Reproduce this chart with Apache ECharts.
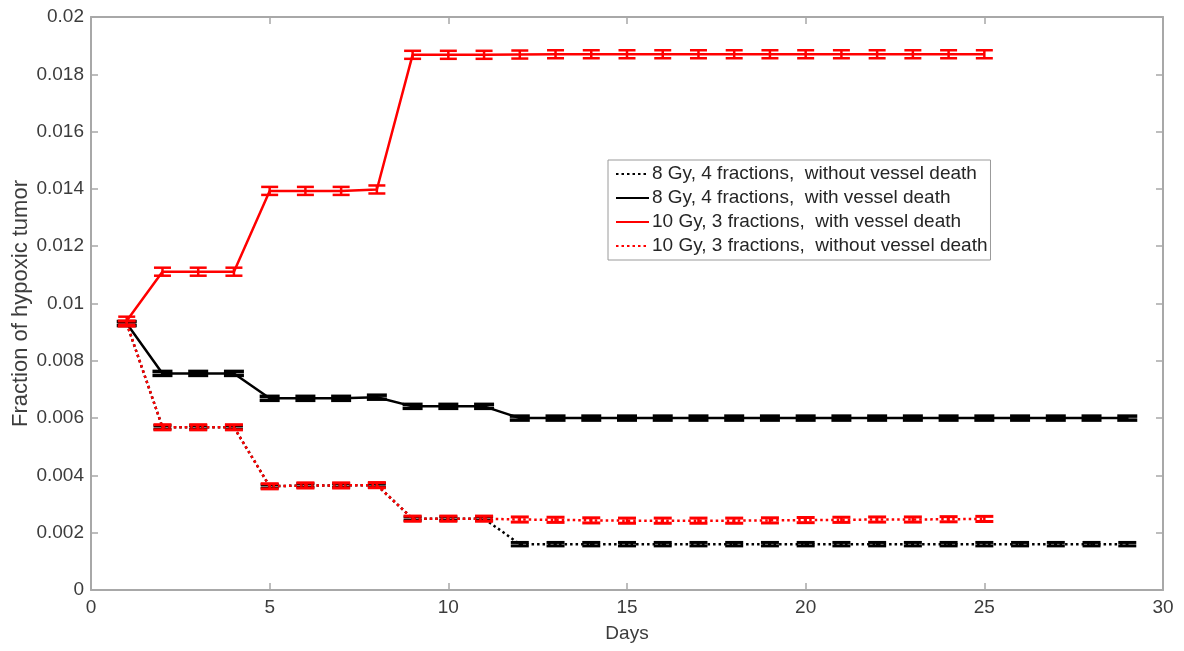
<!DOCTYPE html>
<html>
<head>
<meta charset="utf-8">
<script src="https://cdn.jsdelivr.net/npm/echarts@6/dist/echarts.min.js"></script>
<style>
html,body{margin:0;padding:0;background:#fff;}
#chart{width:1184px;height:651px;}
</style>
</head>
<body>
<div id="chart"></div>
<script>
// ---- data ----
const daysLong = [1,2,3,4,5,6,7,8,9,10,11,12,13,14,15,16,17,18,19,20,21,22,23,24,25,26,27,28,29];
const daysShort = [1,2,3,4,5,6,7,8,9,10,11,12,13,14,15,16,17,18,19,20,21,22,23,24,25];

const xTicks = [0,5,10,15,20,25,30];
const yTicks = [0,0.002,0.004,0.006,0.008,0.01,0.012,0.014,0.016,0.018,0.02];

const seriesNames = [
  '8 Gy, 4 fractions,  without vessel death',
  '8 Gy, 4 fractions,  with vessel death',
  '10 Gy, 3 fractions,  with vessel death',
  '10 Gy, 3 fractions,  without vessel death'
];

// 8 Gy, 4 fractions, without vessel death (black dotted)
const black8Without = [0.0093,0.00568,0.00568,0.00568,0.00362,0.00365,0.00365,0.00366,0.00249,0.00249,0.00249,
  0.0016,0.0016,0.0016,0.0016,0.0016,0.0016,0.0016,0.0016,0.0016,0.0016,0.0016,0.0016,0.0016,0.0016,0.0016,0.0016,0.0016,0.0016];
const black8WithoutErr = [0.00006,0.00006,0.00006,0.00006,0.00006,0.00006,0.00006,0.00006,0.00006,0.00006,0.00006,
  0.00006,0.00006,0.00006,0.00006,0.00006,0.00006,0.00006,0.00006,0.00006,0.00006,0.00006,0.00006,0.00006,0.00006,0.00006,0.00006,0.00006,0.00006];

// 8 Gy, 4 fractions, with vessel death (black solid)
const black8With = [0.0093,0.00756,0.00756,0.00756,0.00669,0.00669,0.00669,0.00673,0.00641,0.00641,0.00641,
  0.006,0.006,0.006,0.006,0.006,0.006,0.006,0.006,0.006,0.006,0.006,0.006,0.006,0.006,0.006,0.006,0.006,0.006];
const black8WithErr = [0.00007,0.00007,0.00007,0.00007,0.00007,0.00007,0.00007,0.00007,0.00007,0.00007,0.00007,
  0.00007,0.00007,0.00007,0.00007,0.00007,0.00007,0.00007,0.00007,0.00007,0.00007,0.00007,0.00007,0.00007,0.00007,0.00007,0.00007,0.00007,0.00007];

// 10 Gy, 3 fractions, with vessel death (red solid)
const red10With = [0.0094,0.01111,0.01111,0.01111,0.01393,0.01393,0.01393,0.01398,0.01868,0.01868,0.01868,
  0.01869,0.0187,0.0187,0.0187,0.0187,0.0187,0.0187,0.0187,0.0187,0.0187,0.0187,0.0187,0.0187,0.0187];
const red10WithErr = [0.00014,0.00014,0.00014,0.00014,0.00014,0.00014,0.00014,0.00014,0.00014,0.00014,0.00014,
  0.00014,0.00014,0.00014,0.00014,0.00014,0.00014,0.00014,0.00014,0.00014,0.00014,0.00014,0.00014,0.00014,0.00014];

// 10 Gy, 3 fractions, without vessel death (red dotted)
const red10Without = [0.0093,0.00568,0.00568,0.00568,0.00362,0.00365,0.00365,0.00366,0.00249,0.00249,0.00249,
  0.00246,0.00245,0.00243,0.00242,0.00242,0.00242,0.00242,0.00243,0.00244,0.00245,0.00246,0.00246,0.00247,0.00248];
const red10WithoutErr = [0.00009,0.00009,0.00009,0.00009,0.00009,0.00009,0.00009,0.00009,0.00009,0.00009,0.00009,
  0.00009,0.00009,0.00009,0.00009,0.00009,0.00009,0.00009,0.00009,0.00009,0.00009,0.00009,0.00009,0.00009,0.00009];

// ---- build ----
const FONT = '"Liberation Sans", Arial, sans-serif';
const AXIS_COLOR = '#a8a8a8';
const TEXT_COLOR = '#3c3c3c';
const LW = 2.5;

function pairs(xs, ys){ return xs.map((x,i)=>[x, ys[i]]); }
function errData(xs, ys, es){ return xs.map((x,i)=>[x, ys[i]-es[i], ys[i]+es[i]]); }

function errRender(color, capHalf, capW){
  return function(params, api){
    const x = api.value(0);
    const lo = api.coord([x, api.value(1)]);
    const hi = api.coord([x, api.value(2)]);
    const st = {stroke: color, lineWidth: LW, fill: null};
    const cs = {stroke: color, lineWidth: capW, fill: null};
    return {type:'group', children:[
      {type:'line', shape:{x1:lo[0], y1:lo[1], x2:hi[0], y2:hi[1]}, style:st},
      {type:'line', shape:{x1:lo[0]-capHalf, y1:lo[1], x2:lo[0]+capHalf, y2:lo[1]}, style:cs},
      {type:'line', shape:{x1:hi[0]-capHalf, y1:hi[1], x2:hi[0]+capHalf, y2:hi[1]}, style:cs}
    ]};
  };
}

function lineSeries(name, xs, ys, color, dash, z){
  return {
    name, type:'line', data: pairs(xs, ys), symbol:'none', z,
    lineStyle:{color, width:LW, type: dash},
    itemStyle:{color},
    silent:true, animation:false
  };
}
function errSeries(name, xs, ys, es, color, capHalf, capW, z){
  return {
    name, type:'custom', data: errData(xs, ys, es), z,
    renderItem: errRender(color, capHalf, capW),
    encode:{x:0, y:[1,2]}, silent:true, animation:false
  };
}

const fmt = v => String(parseFloat(v.toFixed(4)));

const option = {
  animation:false,
  backgroundColor:'#fff',
  textStyle:{fontFamily:FONT},
  grid:{left:91, right:21, top:17, bottom:61, containLabel:false, outerBoundsMode:'none'},
  legend:{
    data: seriesNames,
    orient:'vertical',
    left:608, top:160,
    padding:[2,3,2,7],
    itemGap:0,
    itemWidth:33, itemHeight:14,
    backgroundColor:'#fff',
    borderColor:'#9a9a9a', borderWidth:1, borderRadius:0,
    itemStyle:{opacity:0},
    textStyle:{fontFamily:FONT, fontSize:19, color:'#262626', lineHeight:24, padding:[0,0,0,-2]},
    selectedMode:false
  },
  xAxis:[{
    type:'value', min:0, max:30, interval:5,
    name:'Days', nameLocation:'middle', nameGap:34, nameMoveOverlap:false,
    nameTextStyle:{fontFamily:FONT, fontSize:19, color:TEXT_COLOR},
    axisLine:{show:true, onZero:false, lineStyle:{color:AXIS_COLOR, width:2}},
    axisTick:{show:true, inside:true, length:7, lineStyle:{color:AXIS_COLOR, width:1.5}},
    axisLabel:{fontFamily:FONT, fontSize:19, color:TEXT_COLOR, margin:8,
      customValues: xTicks, formatter: v => String(v)},
    splitLine:{show:false}
  },{
    type:'value', min:0, max:30, interval:5, position:'top',
    axisLine:{show:true, onZero:false, lineStyle:{color:AXIS_COLOR, width:2}},
    axisTick:{show:true, inside:true, length:7, lineStyle:{color:AXIS_COLOR, width:1.5}},
    axisLabel:{show:false}, splitLine:{show:false}
  }],
  yAxis:[{
    type:'value', min:0, max:0.02, interval:0.002,
    name:'Fraction of hypoxic tumor', nameLocation:'middle', nameGap:59, nameRotate:90, nameMoveOverlap:false,
    nameTextStyle:{fontFamily:FONT, fontSize:22, color:TEXT_COLOR},
    axisLine:{show:true, onZero:false, lineStyle:{color:AXIS_COLOR, width:2}},
    axisTick:{show:true, inside:true, length:7, lineStyle:{color:AXIS_COLOR, width:1.5}},
    axisLabel:{fontFamily:FONT, fontSize:19, color:TEXT_COLOR, margin:7,
      customValues: yTicks, formatter: fmt},
    splitLine:{show:false}
  },{
    type:'value', min:0, max:0.02, interval:0.002, position:'right',
    axisLine:{show:true, onZero:false, lineStyle:{color:AXIS_COLOR, width:2}},
    axisTick:{show:true, inside:true, length:7, lineStyle:{color:AXIS_COLOR, width:1.5}},
    axisLabel:{show:false}, splitLine:{show:false}
  }],
  series:[
    lineSeries(seriesNames[0], daysLong, black8Without, '#000', [2.5,3], 2),
    errSeries('err0', daysLong, black8Without, black8WithoutErr, '#000', 9, 3, 2),
    lineSeries(seriesNames[1], daysLong, black8With, '#000', 'solid', 3),
    errSeries('err1', daysLong, black8With, black8WithErr, '#000', 10, 3.5, 3),
    lineSeries(seriesNames[2], daysShort, red10With, '#ff0000', 'solid', 4),
    errSeries('err2', daysShort, red10With, red10WithErr, '#ff0000', 8.5, 2.5, 4),
    lineSeries(seriesNames[3], daysShort, red10Without, '#ff0000', [2.5,3], 5),
    errSeries('err3', daysShort, red10Without, red10WithoutErr, '#ff0000', 9, 3, 5)
  ]
};

const chart = echarts.init(document.getElementById('chart'), null, {renderer:'canvas'});
chart.setOption(option);
</script>
</body>
</html>
